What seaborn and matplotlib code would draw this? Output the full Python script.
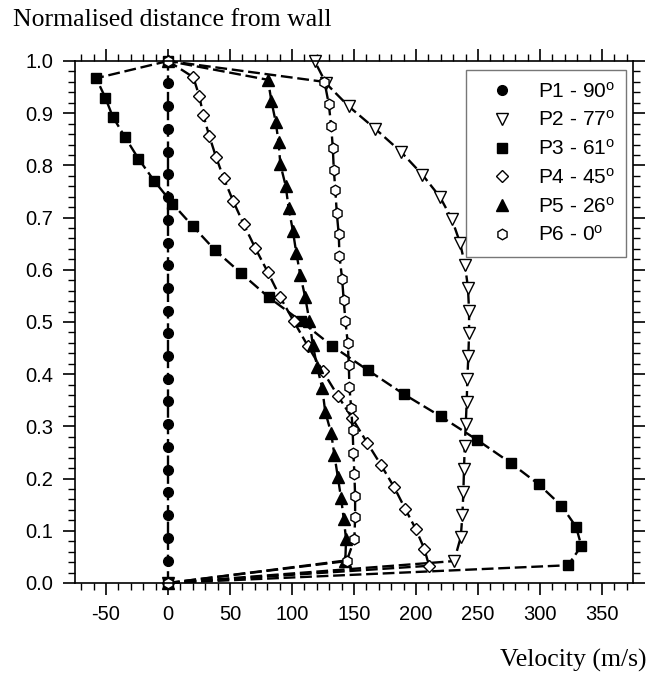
import matplotlib
matplotlib.use("Agg")
import matplotlib.pyplot as plt
from matplotlib.ticker import MultipleLocator, FixedLocator
import seaborn as sns
import pandas as pd

# ---- data ----
labels = ["P1 - 90", "P2 - 77", "P3 - 61", "P4 - 45", "P5 - 26", "P6 - 0"]

p1_y = [0, 0.043, 0.087, 0.130, 0.174, 0.217, 0.261, 0.304, 0.348, 0.391, 0.435, 0.478,
        0.522, 0.565, 0.609, 0.652, 0.696, 0.739, 0.783, 0.826, 0.870, 0.913, 0.957, 1.0]
p1_x = [0] * 24

p2_y = [0, 0.042, 0.088, 0.130, 0.174, 0.218, 0.262, 0.304, 0.347, 0.391, 0.434, 0.479,
        0.521, 0.566, 0.609, 0.652, 0.697, 0.739, 0.782, 0.826, 0.870, 0.913, 0.957, 1.0]
p2_x = [0, 230.7, 236.1, 237.4, 238.2, 238.7, 239.3, 240.1, 240.9, 241.4, 242.2, 242.8,
        242.8, 241.9, 239.5, 235.5, 228.9, 219.5, 205.2, 187.9, 167.2, 145.8, 127.5, 118.2]

p3_y = [0, 0.034, 0.071, 0.108, 0.148, 0.189, 0.230, 0.274, 0.319, 0.362, 0.408, 0.454,
        0.502, 0.547, 0.593, 0.638, 0.684, 0.727, 0.771, 0.813, 0.854, 0.893, 0.930, 0.967, 1.0]
p3_x = [0, 322.6, 333.4, 329.0, 317.3, 299.0, 276.3, 249.4, 220.0, 190.0, 161.0, 132.4,
        107.0, 81.4, 59.1, 37.8, 19.8, 3.5, -11.3, -23.9, -34.6, -44.5, -50.6, -57.9, 0]

p4_y = [0, 0.033, 0.066, 0.103, 0.142, 0.183, 0.226, 0.269, 0.316, 0.359, 0.406, 0.454,
        0.501, 0.547, 0.595, 0.641, 0.687, 0.732, 0.775, 0.817, 0.857, 0.897, 0.933, 0.969, 1.0]
p4_x = [0, 210.6, 206.6, 199.9, 191.3, 182.5, 171.8, 160.5, 148.5, 136.9, 124.8, 112.8,
        101.5, 90.6, 80.6, 70.5, 61.1, 52.5, 45.0, 38.6, 33.2, 28.4, 25.2, 20.4, 0]

p5_y = [0, 0.043, 0.084, 0.122, 0.162, 0.204, 0.245, 0.287, 0.328, 0.373, 0.414, 0.456,
        0.501, 0.547, 0.590, 0.633, 0.675, 0.718, 0.761, 0.802, 0.844, 0.884, 0.923, 0.964, 1.0]
p5_x = [0, 143.0, 143.6, 141.8, 139.6, 136.9, 134.2, 131.6, 126.8, 124.4, 120.3, 116.8,
        114.1, 110.7, 106.7, 103.4, 100.7, 97.3, 94.9, 90.6, 89.2, 86.8, 83.4, 80.6, 0]

p6_y = [0, 0.042, 0.084, 0.126, 0.167, 0.209, 0.250, 0.293, 0.335, 0.376, 0.418, 0.459,
        0.501, 0.542, 0.583, 0.626, 0.668, 0.709, 0.752, 0.792, 0.834, 0.875, 0.917, 0.960, 1.0]
p6_x = [0, 144.1, 150.3, 150.9, 150.9, 150.3, 149.5, 148.9, 147.7, 146.3, 145.8, 145.0,
        143.1, 141.7, 140.4, 138.3, 137.7, 136.1, 135.0, 133.7, 132.9, 131.6, 129.7, 126.2, 0]

x_ticks = [-50, 0, 50, 100, 150, 200, 250, 300, 350]
y_ticks = [0.0, 0.1, 0.2, 0.3, 0.4, 0.5, 0.6, 0.7, 0.8, 0.9, 1.0]

series = [(p1_x, p1_y), (p2_x, p2_y), (p3_x, p3_y), (p4_x, p4_y), (p5_x, p5_y), (p6_x, p6_y)]
styles = [
    dict(marker="o", mfc="black", ms=7.0),
    dict(marker="v", mfc="white", ms=8.2),
    dict(marker="s", mfc="black", ms=6.8),
    dict(marker="D", mfc="white", ms=6.4),
    dict(marker="^", mfc="black", ms=8.2),
    dict(marker="h", mfc="white", ms=7.6),
]

# ---- style ----
sns.set_style("ticks")
plt.rcParams["font.family"] = ["Liberation Sans", "DejaVu Sans"]
plt.rcParams["mathtext.fontset"] = "custom"
plt.rcParams["mathtext.rm"] = "Liberation Sans"
plt.rcParams["mathtext.it"] = "Liberation Sans"
plt.rcParams["text.color"] = "black"
plt.rcParams["xtick.color"] = "black"
plt.rcParams["ytick.color"] = "black"
plt.rcParams["xtick.labelcolor"] = "black"
plt.rcParams["ytick.labelcolor"] = "black"

fig = plt.figure(figsize=(6.66, 6.77), dpi=100)
ax = fig.add_axes([75 / 666, 1 - 583 / 677, 558 / 666, 522 / 677])

for lab, (xs, ys), st in zip(labels, series, styles):
    df = pd.DataFrame({"x": xs, "y": ys})
    sns.lineplot(data=df, x="x", y="y", sort=False, estimator=None, ax=ax,
                 color="black", lw=1.7, linestyle=(0, (5, 2)),
                 marker=st["marker"], markerfacecolor=st["mfc"], markeredgecolor="black",
                 markeredgewidth=1.0, markersize=st["ms"], clip_on=False,
                 label=lab + r"$^{\mathrm{o}}$")

ax.set_xlim(-75, 375)
ax.set_ylim(0, 1.0)
ax.xaxis.set_major_locator(FixedLocator(x_ticks))
ax.xaxis.set_minor_locator(MultipleLocator(10))
ax.yaxis.set_major_locator(FixedLocator(y_ticks))
ax.yaxis.set_minor_locator(MultipleLocator(0.02))
ax.set_xticklabels([str(v) for v in x_ticks])
ax.set_yticklabels([f"{v:.1f}" for v in y_ticks])
ax.set_xlabel("")
ax.set_ylabel("")

for sp in ax.spines.values():
    sp.set_visible(True)
    sp.set_linewidth(1.2)
    sp.set_color("black")

ax.tick_params(which="both", direction="out", top=True, right=True,
               labeltop=False, labelright=False, color="black", labelcolor="black")
ax.tick_params(which="major", length=8.5, width=1.2, labelsize=14.5, pad=7)
ax.tick_params(which="minor", length=5, width=1.0)

leg = ax.legend(loc="upper right", bbox_to_anchor=(0.9875, 0.983), borderaxespad=0,
                fontsize=15, frameon=True, fancybox=False, handlelength=2.4,
                handletextpad=0.5, labelspacing=0.42, borderpad=0.55)
leg.get_frame().set_edgecolor("#555555")
leg.get_frame().set_linewidth(1.0)
for h in leg.legend_handles:
    h.set_linestyle("none")
for t in leg.get_texts():
    t.set_color("black")

fig.text(13 / 666, 1 - 20 / 677, "Normalised distance from wall", family="Liberation Serif",
         fontsize=18.5, ha="left", va="center", color="black")
fig.text(647 / 666, 1 - 660 / 677, "Velocity (m/s)", family="Liberation Serif",
         fontsize=18.5, ha="right", va="center", color="black")

fig.savefig("out.png", dpi=100)
